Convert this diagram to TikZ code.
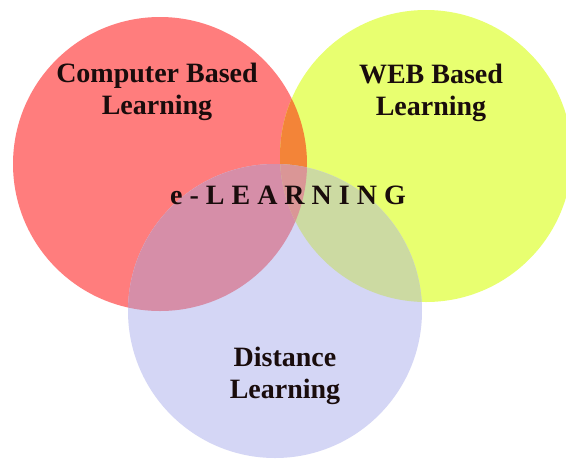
\documentclass[tikz,border=0pt]{standalone}
\usepackage{fontspec}
\setmainfont{Liberation Serif}

\definecolor{cblred}{RGB}{255,125,125}
\definecolor{webyellow}{RGB}{232,255,112}
\definecolor{distblue}{RGB}{212,214,245}
\definecolor{redyellow}{RGB}{243,132,56}
\definecolor{redblue}{RGB}{214,142,168}
\definecolor{yellowblue}{RGB}{204,218,162}
\definecolor{allthree}{RGB}{218,150,150}
\definecolor{vtext}{RGB}{25,12,12}

\begin{document}
\begin{tikzpicture}[x=1pt, y=-1pt]
    \tikzset{
        venntext/.style={
                font=\fontsize{28}{32}\selectfont\bfseries, text=vtext,
                align=center, inner sep=0pt
            }
    }

    \clip (0,0) rectangle (566,459);
    \fill[white] (0,0) rectangle (566,459);

    % circle centres
    \coordinate (cbl) at (160,164);
    \coordinate (web) at (426,156);
    \coordinate (dist) at (275,311);

    % the three sets
    \fill[cblred] (cbl) circle[radius=147];
    \fill[webyellow] (web) circle[radius=146];
    \fill[distblue] (dist) circle[radius=147];

    % pairwise overlaps
    \begin{scope}
        \clip (cbl) circle[radius=147];
        \fill[redyellow] (web) circle[radius=146];
        \fill[redblue] (dist) circle[radius=147];
    \end{scope}
    \begin{scope}
        \clip (web) circle[radius=146];
        \fill[yellowblue] (dist) circle[radius=147];
    \end{scope}

    % middle part, all three
    \begin{scope}
        \clip (cbl) circle[radius=147];
        \clip (web) circle[radius=146];
        \fill[allthree] (dist) circle[radius=147];
    \end{scope}

    % labels
    \node[venntext] (cbltext) at (157,92) {Computer Based\\Learning};
    \node[venntext] (webtext) at (431,93) {WEB Based\\Learning};
    \node[venntext] (disttext) at (285,376) {Distance\\Learning};
    \node[venntext, anchor=base] (elearn) at (288,204) {e - L E A R N I N G};
\end{tikzpicture}
\end{document}
